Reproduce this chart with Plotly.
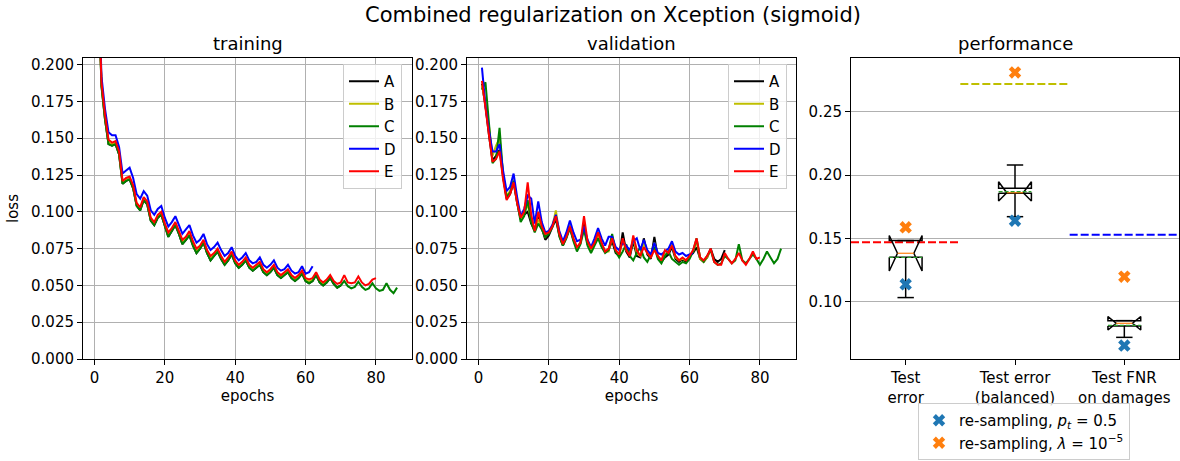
import plotly.graph_objects as go

# ---------------- data ----------------
series_names = ["A", "B", "C", "D", "E"]
series_colors = ["#000000", "#bfbf00", "#008000", "#0000ff", "#ff0000"]

train_A = [0.262, 0.186, 0.163, 0.146, 0.145, 0.146, 0.139, 0.119, 0.121, 0.122,
           0.116, 0.104, 0.101, 0.108, 0.105, 0.094, 0.091, 0.096, 0.098, 0.090,
           0.083, 0.087, 0.091, 0.085, 0.078, 0.081, 0.084, 0.077, 0.072, 0.075,
           0.079, 0.072, 0.067, 0.070, 0.073, 0.068, 0.064, 0.067, 0.071, 0.065,
           0.062, 0.064, 0.067, 0.062, 0.060, 0.062, 0.064, 0.059, 0.057, 0.059,
           0.062, 0.057, 0.055, 0.057, 0.059, 0.055, 0.053, 0.055, 0.058, 0.053,
           0.0515, 0.053, 0.057, 0.052, 0.050, 0.052, 0.055, 0.051, 0.0485, 0.050]
train_B = [0.263, 0.187, 0.164, 0.147, 0.146, 0.147, 0.140, 0.120, 0.122, 0.123,
           0.117, 0.105, 0.102, 0.109, 0.106, 0.095, 0.092, 0.097, 0.099, 0.091,
           0.084, 0.088, 0.092, 0.086, 0.079, 0.082, 0.085, 0.078, 0.073, 0.076,
           0.080, 0.073, 0.068, 0.071, 0.074, 0.069, 0.065, 0.068, 0.072, 0.066,
           0.063, 0.065, 0.068, 0.063, 0.061, 0.063, 0.065, 0.060, 0.058, 0.060,
           0.063, 0.058, 0.056, 0.058, 0.060, 0.056, 0.054, 0.056, 0.059, 0.054,
           0.0525, 0.054, 0.058, 0.053, 0.051, 0.053]
train_C = [0.262, 0.185, 0.163, 0.146, 0.145, 0.146, 0.139, 0.119, 0.121, 0.122,
           0.116, 0.104, 0.101, 0.108, 0.105, 0.094, 0.091, 0.096, 0.098, 0.090,
           0.083, 0.087, 0.091, 0.085, 0.078, 0.081, 0.084, 0.077, 0.072, 0.075,
           0.079, 0.072, 0.067, 0.070, 0.073, 0.068, 0.064, 0.067, 0.071, 0.065,
           0.062, 0.064, 0.067, 0.062, 0.060, 0.062, 0.064, 0.059, 0.057, 0.059,
           0.062, 0.057, 0.055, 0.057, 0.059, 0.055, 0.053, 0.055, 0.058, 0.053,
           0.0515, 0.053, 0.057, 0.052, 0.050, 0.052, 0.055, 0.051, 0.0485, 0.050,
           0.053, 0.0495, 0.048, 0.049, 0.0525, 0.049, 0.047, 0.048, 0.0515, 0.048,
           0.0463, 0.047, 0.0515, 0.047, 0.0447, 0.0485]
train_D = [0.270, 0.192, 0.170, 0.154, 0.152, 0.152, 0.144, 0.126, 0.128, 0.130,
           0.123, 0.112, 0.109, 0.114, 0.111, 0.101, 0.098, 0.102, 0.104, 0.096,
           0.090, 0.093, 0.097, 0.091, 0.085, 0.088, 0.091, 0.084, 0.079, 0.081,
           0.085, 0.078, 0.074, 0.076, 0.079, 0.074, 0.070, 0.072, 0.076, 0.070,
           0.067, 0.069, 0.072, 0.067, 0.065, 0.066, 0.069, 0.064, 0.062, 0.064,
           0.067, 0.062, 0.060, 0.061, 0.064, 0.060, 0.058, 0.059, 0.063, 0.058,
           0.059, 0.063]
train_E = [0.265, 0.188, 0.166, 0.149, 0.147, 0.148, 0.141, 0.121, 0.123, 0.124,
           0.118, 0.106, 0.103, 0.110, 0.107, 0.096, 0.093, 0.098, 0.100, 0.092,
           0.086, 0.089, 0.093, 0.087, 0.081, 0.083, 0.087, 0.080, 0.075, 0.077,
           0.081, 0.074, 0.070, 0.072, 0.075, 0.070, 0.066, 0.069, 0.073, 0.067,
           0.064, 0.066, 0.069, 0.064, 0.062, 0.064, 0.066, 0.061, 0.059, 0.061,
           0.064, 0.059, 0.057, 0.059, 0.061, 0.057, 0.055, 0.057, 0.060, 0.055,
           0.054, 0.055, 0.059, 0.054, 0.052, 0.054, 0.057, 0.053, 0.051, 0.052,
           0.057, 0.052, 0.0515, 0.052, 0.056, 0.052, 0.050, 0.051, 0.054, 0.055]

val_A = [0.187, 0.172, 0.152, 0.135, 0.138, 0.142, 0.124, 0.109, 0.112, 0.120,
         0.106, 0.095, 0.098, 0.100, 0.092, 0.087, 0.097, 0.089, 0.081, 0.084,
         0.089, 0.095, 0.084, 0.077, 0.083, 0.089, 0.081, 0.075, 0.079, 0.092,
         0.078, 0.074, 0.078, 0.085, 0.078, 0.073, 0.074, 0.080, 0.072, 0.070,
         0.086, 0.073, 0.069, 0.080, 0.070, 0.069, 0.082, 0.071, 0.068, 0.083,
         0.069, 0.066, 0.069, 0.071, 0.076, 0.068, 0.066, 0.068, 0.066, 0.070,
         0.072, 0.076, 0.068, 0.066, 0.069, 0.075, 0.068, 0.066, 0.068, 0.074]
val_B = [0.186, 0.174, 0.158, 0.138, 0.145, 0.150, 0.126, 0.111, 0.114, 0.122,
         0.107, 0.095, 0.099, 0.105, 0.094, 0.087, 0.095, 0.089, 0.083, 0.086,
         0.090, 0.101, 0.085, 0.078, 0.083, 0.091, 0.082, 0.075, 0.079, 0.089,
         0.079, 0.074, 0.078, 0.085, 0.077, 0.073, 0.073, 0.083, 0.074, 0.071,
         0.080, 0.074, 0.071, 0.082, 0.072, 0.070, 0.079, 0.072, 0.069, 0.079,
         0.070, 0.067, 0.071, 0.073, 0.078, 0.069, 0.067, 0.068, 0.067, 0.070,
         0.073, 0.080, 0.068, 0.066, 0.069, 0.074]
val_C = [0.183, 0.188, 0.160, 0.133, 0.136, 0.157, 0.125, 0.110, 0.113, 0.121,
         0.107, 0.093, 0.097, 0.108, 0.093, 0.086, 0.092, 0.088, 0.083, 0.085,
         0.090, 0.097, 0.083, 0.077, 0.082, 0.089, 0.080, 0.073, 0.078, 0.088,
         0.077, 0.072, 0.077, 0.082, 0.076, 0.072, 0.074, 0.085, 0.073, 0.069,
         0.073, 0.078, 0.070, 0.067, 0.072, 0.076, 0.069, 0.066, 0.071, 0.076,
         0.068, 0.065, 0.070, 0.073, 0.068, 0.066, 0.064, 0.066, 0.065, 0.068,
         0.073, 0.082, 0.069, 0.066, 0.070, 0.074, 0.066, 0.064, 0.065, 0.070,
         0.068, 0.065, 0.067, 0.078, 0.067, 0.065, 0.068, 0.071, 0.068, 0.064,
         0.068, 0.073, 0.069, 0.065, 0.068, 0.075]
val_D = [0.198, 0.172, 0.155, 0.141, 0.141, 0.146, 0.128, 0.114, 0.117, 0.126,
         0.110, 0.097, 0.102, 0.111, 0.109, 0.092, 0.107, 0.093, 0.086, 0.087,
         0.091, 0.098, 0.087, 0.080, 0.086, 0.094, 0.086, 0.080, 0.081, 0.090,
         0.081, 0.076, 0.082, 0.089, 0.082, 0.077, 0.083, 0.083, 0.076, 0.074,
         0.079, 0.077, 0.074, 0.080, 0.082, 0.074, 0.081, 0.074, 0.071, 0.079,
         0.072, 0.071, 0.073, 0.075, 0.080, 0.073, 0.071, 0.072, 0.070, 0.071,
         0.072]
val_E = [0.189, 0.170, 0.150, 0.134, 0.136, 0.141, 0.122, 0.108, 0.112, 0.120,
         0.106, 0.096, 0.100, 0.120, 0.098, 0.087, 0.100, 0.090, 0.085, 0.086,
         0.090, 0.097, 0.085, 0.078, 0.083, 0.090, 0.082, 0.076, 0.079, 0.097,
         0.080, 0.075, 0.079, 0.086, 0.079, 0.073, 0.075, 0.082, 0.074, 0.071,
         0.082, 0.074, 0.070, 0.084, 0.074, 0.070, 0.076, 0.072, 0.069, 0.074,
         0.070, 0.067, 0.074, 0.072, 0.077, 0.070, 0.067, 0.069, 0.067, 0.070,
         0.074, 0.082, 0.069, 0.067, 0.070, 0.075, 0.066, 0.064, 0.064, 0.072,
         0.068, 0.065, 0.068, 0.072, 0.067, 0.064, 0.068, 0.073, 0.068, 0.069]

train_series = [train_A, train_B, train_C, train_D, train_E]
val_series = [val_A, val_B, val_C, val_D, val_E]

# performance panel
perf_labels = ["Test<br>error", "Test error<br>(balanced)", "Test FNR<br>on damages"]
perf_pos = [1, 2, 3]
box_q1 = [0.1350, 0.1856, 0.0808]
box_q3 = [0.1482, 0.1895, 0.0850]
box_med = [0.1382, 0.1860, 0.0829]
box_mean = [0.1350, 0.1868, 0.0812]
box_cilo = [0.1242, 0.1795, 0.0776]
box_cihi = [0.1522, 0.1947, 0.0882]
box_whislo = [0.1032, 0.1671, 0.0718]
box_whishi = [0.1482, 0.2079, 0.0850]
resamp_pt = [0.1137, 0.1639, 0.0653]
resamp_lambda = [0.1587, 0.2810, 0.1197]
baseline_vals = [0.1468, 0.2718, 0.1529]
baseline_colors = ["#ff0000", "#bfbf00", "#0000ff"]

# ---------------- figure ----------------
W, H = 1180, 461
FONT = "DejaVu Sans"


def fx(p):
    return p / W


def fy(p):
    return 1 - p / H


fig = go.Figure()

for name, col, ys in zip(series_names, series_colors, train_series):
    fig.add_trace(go.Scatter(x=list(range(1, len(ys) + 1)), y=ys, mode="lines", name=name,
                             line=dict(color=col, width=2), xaxis="x", yaxis="y", legend="legend"))
for name, col, ys in zip(series_names, series_colors, val_series):
    fig.add_trace(go.Scatter(x=list(range(1, len(ys) + 1)), y=ys, mode="lines", name=name,
                             line=dict(color=col, width=2), xaxis="x2", yaxis="y2", legend="legend2"))

# baselines
for p, v, c in zip(perf_pos, baseline_vals, baseline_colors):
    fig.add_trace(go.Scatter(x=[p - 0.5, p + 0.5], y=[v, v], mode="lines", showlegend=False,
                             line=dict(color=c, width=2, dash="8px,3px"), xaxis="x3", yaxis="y3",
                             hoverinfo="skip"))

# notched boxes (matplotlib style)
bw = 0.3
for i, p in enumerate(perf_pos):
    L, R = p - bw / 2, p + bw / 2
    cl, cr = p - bw / 4, p + bw / 4
    bx = [L, R, R, cr, R, R, L, L, cl, L, L]
    by = [box_q1[i], box_q1[i], box_cilo[i], box_med[i], box_cihi[i], box_q3[i],
          box_q3[i], box_cihi[i], box_med[i], box_cilo[i], box_q1[i]]
    fig.add_trace(go.Scatter(x=bx, y=by, mode="lines", showlegend=False,
                             line=dict(color="black", width=1.5), xaxis="x3", yaxis="y3"))
    wx = [p, p, None, p, p, None, cl, cr, None, cl, cr]
    wy = [box_q1[i], box_whislo[i], None, box_q3[i], box_whishi[i], None,
          box_whislo[i], box_whislo[i], None, box_whishi[i], box_whishi[i]]
    fig.add_trace(go.Scatter(x=wx, y=wy, mode="lines", showlegend=False,
                             line=dict(color="black", width=1.5), xaxis="x3", yaxis="y3"))
    fig.add_trace(go.Scatter(x=[cl, cr], y=[box_med[i], box_med[i]], mode="lines", showlegend=False,
                             line=dict(color="#ff7f0e", width=1.2), xaxis="x3", yaxis="y3"))
    fig.add_trace(go.Scatter(x=[L, R], y=[box_mean[i], box_mean[i]], mode="lines", showlegend=False,
                             line=dict(color="#2ca02c", width=1.2, dash="4px,2px"), xaxis="x3", yaxis="y3"))

fig.add_trace(go.Scatter(x=perf_pos, y=resamp_pt, mode="markers",
                         name="re-sampling, <i>p<sub>t</sub></i> = 0.5",
                         marker=dict(symbol="x", size=11, color="#1f77b4", line=dict(width=0)),
                         xaxis="x3", yaxis="y3", legend="legend3"))
fig.add_trace(go.Scatter(x=perf_pos, y=resamp_lambda, mode="markers",
                         name="re-sampling, <i>λ</i> = 10<sup>−5</sup>",
                         marker=dict(symbol="x", size=11, color="#ff7f0e", line=dict(width=0)),
                         xaxis="x3", yaxis="y3", legend="legend3"))

axis_common = dict(showline=True, mirror=True, linecolor="black", linewidth=1,
                   ticks="outside", ticklen=5, tickcolor="black", tickwidth=1,
                   gridcolor="#b0b0b0", gridwidth=1, zeroline=False, automargin=False,
                   tickfont=dict(family=FONT, size=15, color="black"))

loss_ticks = [0.0, 0.025, 0.05, 0.075, 0.1, 0.125, 0.15, 0.175, 0.2]
ydom = [fy(359), fy(58)]

fig.update_layout(
    width=W, height=H,
    margin=dict(l=0, r=0, t=0, b=0, autoexpand=False),
    paper_bgcolor="white", plot_bgcolor="white",
    font=dict(family=FONT, size=15, color="black"),
    xaxis=dict(domain=[fx(83), fx(412)], anchor="y", range=[-3.25, 90.25],
               tickvals=[0, 20, 40, 60, 80], showgrid=True,
               title=dict(text="epochs", standoff=3, font=dict(size=15)), **axis_common),
    yaxis=dict(domain=ydom, anchor="x", range=[0, 0.2045], tickvals=loss_ticks,
               tickformat=".3f", showgrid=True,
               title=dict(text="loss", standoff=8, font=dict(size=15)), **axis_common),
    xaxis2=dict(domain=[fx(467), fx(796)], anchor="y2", range=[-3.25, 90.25],
                tickvals=[0, 20, 40, 60, 80], showgrid=True,
                title=dict(text="epochs", standoff=3, font=dict(size=15)), **axis_common),
    yaxis2=dict(domain=ydom, anchor="x2", range=[0, 0.2045], tickvals=loss_ticks,
                tickformat=".3f", showgrid=True, **axis_common),
    xaxis3=dict(domain=[fx(851), fx(1179)], anchor="y3", range=[0.5, 3.5],
                tickvals=perf_pos, ticktext=perf_labels, showgrid=False, **axis_common),
    yaxis3=dict(domain=ydom, anchor="x3", range=[0.0547, 0.2924],
                tickvals=[0.10, 0.15, 0.20, 0.25], tickformat=".2f", showgrid=True, **axis_common),
    legend=dict(x=fx(402), xanchor="right", y=fy(64), yanchor="top",
                bgcolor="rgba(255,255,255,0.8)", bordercolor="#cccccc", borderwidth=1,
                font=dict(family=FONT, size=15)),
    legend2=dict(x=fx(787), xanchor="right", y=fy(64), yanchor="top",
                 bgcolor="rgba(255,255,255,0.8)", bordercolor="#cccccc", borderwidth=1,
                 font=dict(family=FONT, size=15)),
    legend3=dict(x=fx(918), xanchor="left", y=fy(460), yanchor="bottom",
                 bgcolor="rgba(255,255,255,0.8)", bordercolor="#cccccc", borderwidth=1,
                 font=dict(family=FONT, size=15)),
    annotations=[
        dict(text="Combined regularization on Xception (sigmoid)", x=fx(613), y=fy(15),
             xref="paper", yref="paper", xanchor="center", yanchor="middle",
             showarrow=False, font=dict(size=21)),
        dict(text="training", x=fx(247.5), y=fy(44), xref="paper", yref="paper",
             xanchor="center", yanchor="middle", showarrow=False, font=dict(size=18)),
        dict(text="validation", x=fx(631.5), y=fy(44), xref="paper", yref="paper",
             xanchor="center", yanchor="middle", showarrow=False, font=dict(size=18)),
        dict(text="performance", x=fx(1015), y=fy(44), xref="paper", yref="paper",
             xanchor="center", yanchor="middle", showarrow=False, font=dict(size=18)),
    ],
)

fig.write_html("out.html")
